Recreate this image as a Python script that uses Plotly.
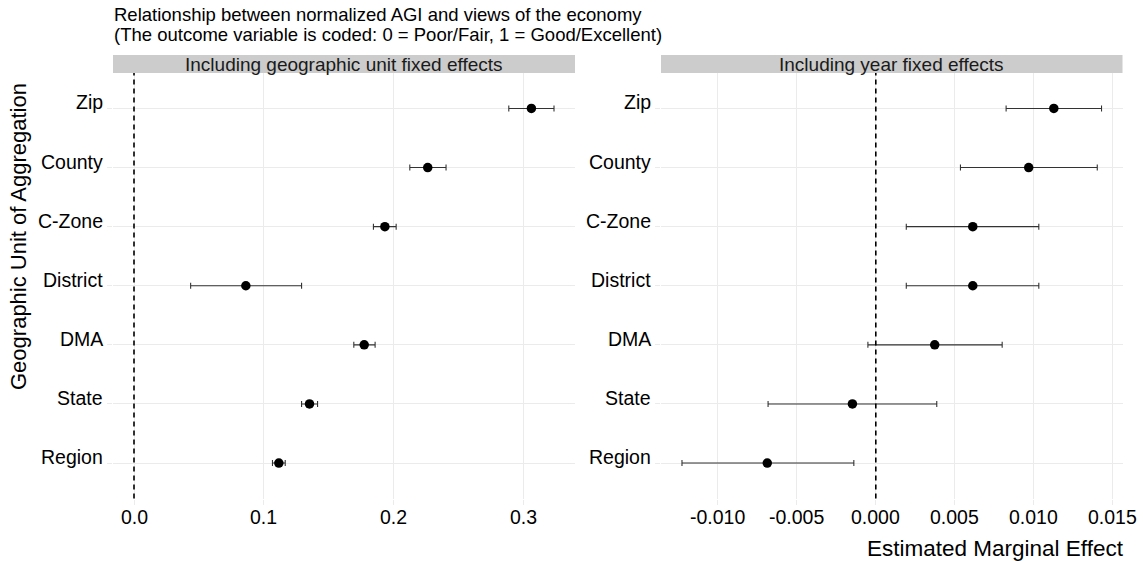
import plotly.graph_objects as go

# Geographic units, bottom row first
units = ["Region", "State", "DMA", "District", "C-Zone", "County", "Zip"]

# Model 1: geographic unit fixed effects
geo_est = [0.1115, 0.1351, 0.1772, 0.0861, 0.1931, 0.2261, 0.3059]
geo_lo = [0.1066, 0.1290, 0.1692, 0.0436, 0.1843, 0.2123, 0.2885]
geo_hi = [0.1164, 0.1413, 0.1856, 0.1290, 0.2018, 0.2402, 0.3233]

# Model 2: year fixed effects
yr_est = [-0.00687, -0.00148, 0.00373, 0.00614, 0.00614, 0.00968, 0.01127]
yr_lo = [-0.01227, -0.00682, -0.00050, 0.00193, 0.00193, 0.00536, 0.00825]
yr_hi = [-0.00139, 0.00386, 0.00800, 0.01032, 0.01032, 0.01402, 0.01429]

left_ticks = [0.0, 0.1, 0.2, 0.3]
left_ticktext = ["0.0", "0.1", "0.2", "0.3"]
right_ticks = [-0.010, -0.005, 0.000, 0.005, 0.010, 0.015]
right_ticktext = ["-0.010", "-0.005", "0.000", "0.005", "0.010", "0.015"]

panel_titles = ["Including geographic unit fixed effects", "Including year fixed effects"]
title_lines = [
    "Relationship between normalized AGI and views of the economy",
    "(The outcome variable is coded: 0 = Poor/Fair, 1 = Good/Excellent)",
]
x_title = "Estimated Marginal Effect"
y_title = "Geographic Unit of Aggregation"

W, H = 1143, 561
FONT = "Liberation Sans, Arial, sans-serif"
GRID = "#ebebeb"
TICK_SIZE = 19.5

# panel placement in pixels
left_px = (113, 575)
right_px = (661, 1122.5)
top_px, bottom_px = 73, 498.5
strip_top_px = 55
xlabel_px = 517


def px_x(v):
    return v / W


def px_y(v):
    return 1 - v / H


def expanded(lo_vals, hi_vals):
    lo = min(0.0, min(lo_vals))
    hi = max(0.0, max(hi_vals))
    pad = 0.05 * (hi - lo)
    return [lo - pad, hi + pad]


ypos = list(range(1, len(units) + 1))

fig = go.Figure()


def add_panel(est, lo, hi, xa, ya):
    fig.add_trace(go.Scatter(
        x=est, y=ypos, mode="markers",
        marker=dict(color="black", size=9.5),
        error_x=dict(
            type="data", symmetric=False,
            array=[h - e for h, e in zip(hi, est)],
            arrayminus=[e - l for e, l in zip(est, lo)],
            color="#333333", thickness=1.1, width=3,
        ),
        xaxis=xa, yaxis=ya, showlegend=False, hoverinfo="skip",
    ))


add_panel(geo_est, geo_lo, geo_hi, "x", "y")
add_panel(yr_est, yr_lo, yr_hi, "x2", "y2")

ydom = [px_y(bottom_px), px_y(top_px)]
axis_common = dict(
    showgrid=True, gridcolor=GRID, gridwidth=1.1, zeroline=False,
    ticks="outside", ticklen=5, tickcolor=GRID, tickwidth=1.1,
    showline=False, showticklabels=False, tickmode="array",
)

fig.update_layout(
    width=W, height=H, autosize=False,
    margin=dict(l=0, r=0, t=0, b=0),
    paper_bgcolor="white", plot_bgcolor="white",
    font=dict(family=FONT, color="black"),
    xaxis=dict(domain=[px_x(left_px[0]), px_x(left_px[1])],
               range=expanded(geo_lo, geo_hi), tickvals=left_ticks,
               anchor="y", **axis_common),
    xaxis2=dict(domain=[px_x(right_px[0]), px_x(right_px[1])],
                range=expanded(yr_lo, yr_hi), tickvals=right_ticks,
                anchor="y2", **axis_common),
    yaxis=dict(domain=ydom, range=[0.4, len(units) + 0.6], tickvals=ypos,
               anchor="x", **axis_common),
    yaxis2=dict(domain=ydom, range=[0.4, len(units) + 0.6], tickvals=ypos,
                anchor="x2", **axis_common),
)

tick_font = dict(family=FONT, size=TICK_SIZE, color="black")

# category labels, set slightly above each row line
for ya, (x0, _) in (("y", left_px), ("y2", right_px)):
    for pos, name in zip(ypos, units):
        fig.add_annotation(xref="paper", yref=ya, x=px_x(x0 - 8), y=pos,
                           text=name, showarrow=False, xanchor="right",
                           yanchor="middle", yshift=6, font=tick_font)

# value labels under each panel
for xa, vals, texts in (("x", left_ticks, left_ticktext),
                        ("x2", right_ticks, right_ticktext)):
    for v, t in zip(vals, texts):
        fig.add_annotation(xref=xa, yref="paper", x=v, y=px_y(xlabel_px),
                           text=t, showarrow=False, xanchor="center",
                           yanchor="middle", font=tick_font)

# reference line at zero in both panels
for xr, yr in (("x", "y domain"), ("x2", "y2 domain")):
    fig.add_shape(type="line", xref=xr, yref=yr, x0=0, x1=0, y0=0, y1=1,
                  line=dict(color="black", width=1.6, dash="5px,4px"),
                  layer="above")

# facet strips
for (x0, x1), label in zip((left_px, right_px), panel_titles):
    fig.add_shape(type="rect", xref="paper", yref="paper",
                  x0=px_x(x0), x1=px_x(x1), y0=px_y(top_px), y1=px_y(strip_top_px),
                  fillcolor="#cccccc", line=dict(width=0), layer="below")
    fig.add_annotation(xref="paper", yref="paper", x=px_x((x0 + x1) / 2),
                       y=px_y((top_px + strip_top_px) / 2 + 1), text=label,
                       showarrow=False, xanchor="center", yanchor="middle",
                       font=dict(family=FONT, size=19, color="#1a1a1a"))

# plot title (two lines)
for i, line in enumerate(title_lines):
    fig.add_annotation(xref="paper", yref="paper", x=px_x(112),
                       y=px_y(15 + 20 * i), text=line, showarrow=False,
                       xanchor="left", yanchor="middle",
                       font=dict(family=FONT, size=18.5, color="black"))

# axis titles
fig.add_annotation(xref="paper", yref="paper", x=px_x(1126), y=px_y(548),
                   text=x_title, showarrow=False, xanchor="right", yanchor="middle",
                   font=dict(family=FONT, size=22.5, color="black"))
fig.add_annotation(xref="paper", yref="paper", x=px_x(18), y=px_y(237),
                   text=y_title, showarrow=False, textangle=-90,
                   xanchor="center", yanchor="middle",
                   font=dict(family=FONT, size=22, color="black"))

fig.write_html("out.html")
